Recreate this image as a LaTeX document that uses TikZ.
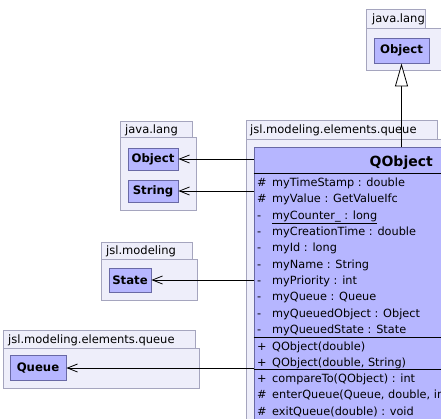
\documentclass[tikz,border=0pt]{standalone}
\usepackage{fontspec}
\setmainfont{DejaVu Sans}
\usetikzlibrary{arrows.meta}
\definecolor{pkgfill}{RGB}{238,238,250}
\definecolor{pkgdraw}{RGB}{165,165,190}
\definecolor{clsfill}{RGB}{182,182,255}
\definecolor{clsdraw}{RGB}{105,105,165}
\begin{document}
\begin{tikzpicture}[x=1pt,y=-1pt,
  every node/.style={font=\fontsize{11.3}{13}\selectfont},
  pkg/.style={draw=pkgdraw,fill=pkgfill,line width=0.9pt},
  pkglabel/.style={anchor=base west,inner sep=0pt,font=\fontsize{11.5}{13}\selectfont},
  cls/.style={draw=clsdraw,fill=clsfill,line width=0.9pt,inner sep=0pt,
    font=\fontsize{11.7}{13}\selectfont\bfseries},
  member/.style={anchor=base west,inner sep=0pt},
  dep/.style={-{Straight Barb[length=10pt,width=8pt,line width=0.8pt]},line width=0.9pt},
  gen/.style={-{Triangle[open,length=23pt,width=13pt,fill=white,line width=0.8pt]},line width=0.9pt},
  sep/.style={line width=0.9pt}]
\useasboundingbox (0,0) rectangle (441,418);
\clip (0,0) rectangle (441,418);
\fill[white] (0,0) rectangle (441,418);

% top right package java.lang
\draw[pkg] (366,9) rectangle (425,28);
\draw[pkg] (366,28) rectangle (441,70);
\node[pkglabel] (pkgA) at (372,22) {java.lang};
\node[cls,minimum width=55pt,minimum height=25pt] (objTop) at (401.5,50.5) {Object};

% right package jsl.modeling.elements.queue
\draw[pkg] (246,120) rectangle (437,139);
\draw[pkg] (246,139) rectangle (560,430);
\node[pkglabel] (pkgB) at (250,133) {jsl.modeling.elements.queue};

% left package java.lang
\draw[pkg] (120,121) rectangle (192,137);
\draw[pkg] (120,137) rectangle (196,210);
\node[pkglabel] (pkgC) at (125,133) {java.lang};
\node[cls,minimum width=50pt,minimum height=22pt] (objL) at (153,159) {Object};
\node[cls,minimum width=50pt,minimum height=22pt] (strL) at (153,191) {String};

% jsl.modeling
\draw[pkg] (101,242) rectangle (192,259);
\draw[pkg] (101,259) rectangle (197,300);
\node[pkglabel] (pkgD) at (106,254.5) {jsl.modeling};
\node[cls,minimum width=42pt,minimum height=24pt] (state) at (130,280) {State};

% left jsl.modeling.elements.queue
\draw[pkg] (3,330) rectangle (195,348);
\draw[pkg] (3,348) rectangle (199,388);
\node[pkglabel] (pkgE) at (8,343) {jsl.modeling.elements.queue};
\node[cls,minimum width=56pt,minimum height=25pt] (queue) at (38,368) {Queue};

% QObject class
\node[cls,minimum width=294pt,minimum height=290pt] (qo) at (401,292) {};
\node[anchor=base east,inner sep=0pt,font=\fontsize{14}{16}\selectfont\bfseries] (title) at (433,166) {QObject};
\draw[sep] (qo.west |- 0,173) -- (qo.east |- 0,173);

\foreach \s/\t [count=\i from 0] in {
  \#/{myTimeStamp : double},
  \#/{myValue : GetValueIfc},
  -/{\underline{myCounter\_ : long}},
  -/{myCreationTime : double},
  -/{myId : long},
  -/{myName : String},
  -/{myPriority : int},
  -/{myQueue : Queue},
  -/{myQueuedObject : Object},
  -/{myQueuedState : State}}{
  \node[member] (as\i) at (257,186.5+16.35*\i) {\s};
  \node[member] (an\i) at (272,186.5+16.35*\i) {\t};
}
\draw[sep] (qo.west |- 0,337) -- (qo.east |- 0,337);
\node[member] (cs0) at (257,350.5) {+};
\node[member] (cn0) at (272,350.5) {QObject(double)};
\node[member] (cs1) at (257,366.8) {+};
\node[member] (cn1) at (272,366.8) {QObject(double, String)};
\draw[sep] (qo.west |- 0,369.5) -- (qo.east |- 0,369.5);
\node[member] (os0) at (257,382.5) {+};
\node[member] (on0) at (272,382.5) {compareTo(QObject) : int};
\node[member] (os1) at (257,398.9) {\#};
\node[member] (on1) at (272,398.9) {enterQueue(Queue, double, int) : void};
\node[member] (os2) at (257,415.2) {\#};
\node[member] (on2) at (272,415.2) {exitQueue(double) : void};

% connectors
\draw[gen] (qo.north -| objTop) -- (objTop.south);
\draw[dep] (qo.west |- objL) -- (objL.east);
\draw[dep] (qo.west |- strL) -- (strL.east);
\draw[dep] (qo.west |- state) -- (state.east);
\draw[dep] (qo.west |- queue) -- (queue.east);
\end{tikzpicture}
\end{document}
